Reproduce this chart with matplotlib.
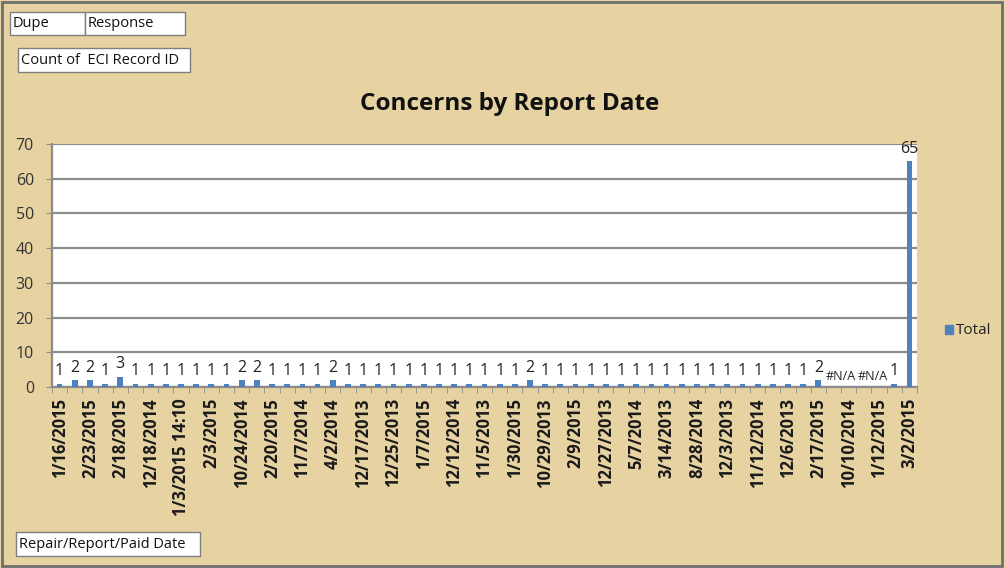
import numpy as np
import matplotlib.pyplot as plt
from matplotlib.patches import Rectangle

# categories (report dates) and counts
dates = [
    "1/16/2015", "", "2/23/2015", "", "2/18/2015", "", "12/18/2014", "",
    "1/3/2015 14:10", "", "2/3/2015", "", "10/24/2014", "", "2/20/2015", "",
    "11/7/2014", "", "4/2/2014", "", "12/17/2013", "", "12/25/2013", "",
    "1/7/2015", "", "12/12/2014", "", "11/5/2013", "", "1/30/2015", "",
    "10/29/2013", "", "2/9/2015", "", "12/27/2013", "", "5/7/2014", "",
    "3/14/2013", "", "8/28/2014", "", "12/3/2013", "", "11/12/2014", "",
    "12/6/2013", "", "2/17/2015", "", "10/10/2014", "", "1/12/2015", "",
    "3/2/2015",
]
counts = [1, 2, 2, 1, 3, 1, 1, 1, 1, 1, 1, 1, 2, 2, 1, 1, 1, 1, 2, 1,
          1, 1, 1, 1, 1, 1, 1, 1, 1, 1, 1, 2, 1, 1, 1, 1, 1, 1, 1, 1,
          1, 1, 1, 1, 1, 1, 1, 1, 1, 1, 2, None, None, None, None, 1, 65]
na_labels = ["#N/A", "#N/A"]

BG = "#E7D3A2"
BLUE = "#4F81BD"
FONT = ["Open Sans", "DejaVu Sans"]
plt.rcParams["font.family"] = FONT

fig = plt.figure(figsize=(10.05, 5.68), dpi=100, facecolor=BG)
ax = fig.add_axes([52 / 1005, 1 - 387 / 568, 865 / 1005, 243 / 568])
ax.set_facecolor("white")

x = np.arange(len(counts))
vals = np.array([np.nan if v is None else v for v in counts], dtype=float)
ax.bar(x, np.nan_to_num(vals), width=0.38, color=BLUE, zorder=3)

for i, v in enumerate(counts):
    if v is not None:
        ax.text(i, v + 1.2, str(v), ha="center", va="bottom", fontsize=11.5, color="#222222", zorder=4)

# #N/A labels for the empty categories, spread so they do not collide
missing = [i for i, v in enumerate(counts) if v is None]
for lab, xi in zip(na_labels, [missing[0] + 0.5, missing[2] + 0.6]):
    ax.text(xi, 1.2, lab, ha="center", va="bottom", fontsize=9, color="#222222", zorder=4)

ax.set_xlim(-0.5, len(counts) - 0.5)
ax.set_ylim(0, 70)
ax.set_yticks(range(0, 71, 10))
ax.yaxis.grid(True, color="#8C8C8C", linewidth=1.6, zorder=0)
ax.set_axisbelow(True)

ax.set_xticks(x)
ax.set_xticklabels(dates, rotation=90, fontsize=12, fontweight="bold", color="#1a1a1a")
ax.set_xticks(np.arange(-0.5, len(counts), 1), minor=True)
ax.tick_params(axis="x", which="major", length=0, pad=8)
ax.tick_params(axis="x", which="minor", length=4, color="#8C8C8C")
ax.tick_params(axis="y", length=4, color="#8C8C8C", labelsize=11.5, labelcolor="#333333", pad=9)

for side in ["top", "right"]:
    ax.spines[side].set_visible(False)
for side in ["left", "bottom"]:
    ax.spines[side].set_color("#8C8C8C")
    ax.spines[side].set_linewidth(1.6)

fig.text(510 / 1005, 1 - 104 / 568, "Concerns by Report Date", ha="center", va="center",
         fontsize=17.5, fontweight="bold", color="#111111")

# legend
fig.patches.append(Rectangle((945 / 1005, 1 - 334 / 568), 8 / 1005, 9 / 568,
                             transform=fig.transFigure, color=BLUE))
fig.text(956 / 1005, 1 - 330 / 568, "Total", ha="left", va="center", fontsize=11, color="#222222")


def field_button(x0, y0, w, h, label, size=10.5):
    fig.patches.append(Rectangle((x0 / 1005, 1 - (y0 + h) / 568), w / 1005, h / 568,
                                 transform=fig.transFigure, facecolor="white",
                                 edgecolor="#7F7F7F", linewidth=1))
    fig.text((x0 + 3) / 1005, 1 - (y0 + h / 2) / 568, label, ha="left", va="center",
             fontsize=size, color="#111111")


field_button(10, 12, 75, 23, "Dupe")
field_button(85, 12, 100, 23, "Response")
field_button(18, 48, 172, 24, "Count of  ECI Record ID")
field_button(16, 532, 184, 24, "Repair/Report/Paid Date")

# outer frame
fig.patches.append(Rectangle((0.002, 0.003), 0.995, 0.994, transform=fig.transFigure,
                             fill=False, edgecolor="#6E6E6E", linewidth=2))

fig.savefig("out.png", dpi=100, facecolor=BG)
